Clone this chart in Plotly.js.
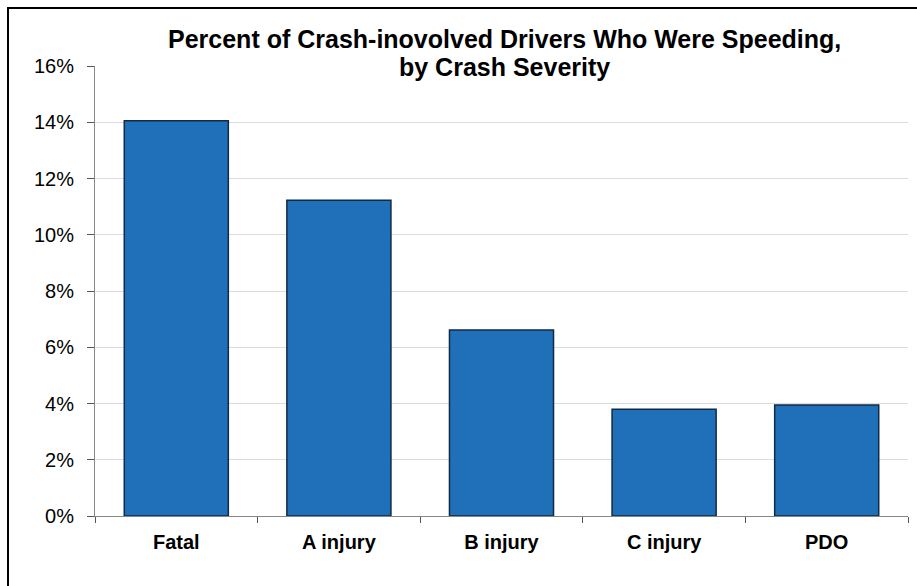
<!DOCTYPE html>
<html><head><meta charset="utf-8">
<script src="https://cdn.plot.ly/plotly-3.0.1.min.js"></script>
<style>
html,body{margin:0;padding:0;background:#fff;}
#frame{position:absolute;left:7px;top:7px;width:920px;height:590px;border-left:2px solid #000;border-top:2px solid #000;}
#chart{position:absolute;left:0;top:0;width:917px;height:586px;}
</style></head>
<body>
<div id="frame"></div>
<div id="chart"></div>
<script>
const categories = ["Fatal", "A injury", "B injury", "C injury", "PDO"];
const percentSpeeding = [0.1405, 0.1123, 0.0661, 0.0380, 0.0395];
const yTickValues = [0, 0.02, 0.04, 0.06, 0.08, 0.10, 0.12, 0.14, 0.16];
const yTickLabels = ["0%", "2%", "4%", "6%", "8%", "10%", "12%", "14%", "16%"];
const titleLines = ["Percent of Crash-inovolved Drivers Who Were Speeding,", "by Crash Severity"];

const FONT = "Liberation Sans, Arial, sans-serif";

const trace = {
  type: "bar",
  x: categories,
  y: percentSpeeding,
  marker: {color: "#1f70b8", line: {color: "#112a45", width: 1.5}},
  hoverinfo: "skip"
};

const plotTop = 66, plotH = 450;
const titleCenters = [39, 67];

const layout = {
  width: 917, height: 586,
  margin: {l: 95, r: 9, t: plotTop, b: 70},
  paper_bgcolor: "rgba(0,0,0,0)",
  plot_bgcolor: "rgba(0,0,0,0)",
  bargap: 0.36,
  showlegend: false,
  font: {family: FONT, color: "#000"},
  annotations: titleLines.map((t, i) => ({
    text: "<b>" + t + "</b>",
    xref: "paper", yref: "paper",
    x: 0.504, xanchor: "center",
    y: 1 + (plotTop - titleCenters[i]) / plotH, yanchor: "middle",
    showarrow: false,
    font: {size: 25, color: "#000", family: FONT}
  })),
  xaxis: {
    type: "category",
    showline: true, linecolor: "#868686", linewidth: 1,
    ticks: "outside", tickson: "boundaries", ticklen: 6, tickcolor: "#555",
    ticklabelstandoff: 8,
    tickfont: {size: 20, family: FONT, color: "#000", weight: "bold"},
    showgrid: false, zeroline: false
  },
  yaxis: {
    range: [0, 0.16],
    tickvals: yTickValues, ticktext: yTickLabels,
    showline: true, linecolor: "#868686", linewidth: 1,
    ticks: "outside", ticklen: 7, tickcolor: "#555",
    ticklabelstandoff: 9,
    tickfont: {size: 20, family: FONT, color: "#000"},
    showgrid: true, gridcolor: "#dcdcdc", gridwidth: 1,
    zeroline: false
  }
};

Plotly.newPlot("chart", [trace], layout, {displayModeBar: false, staticPlot: true});
</script>
</body></html>
